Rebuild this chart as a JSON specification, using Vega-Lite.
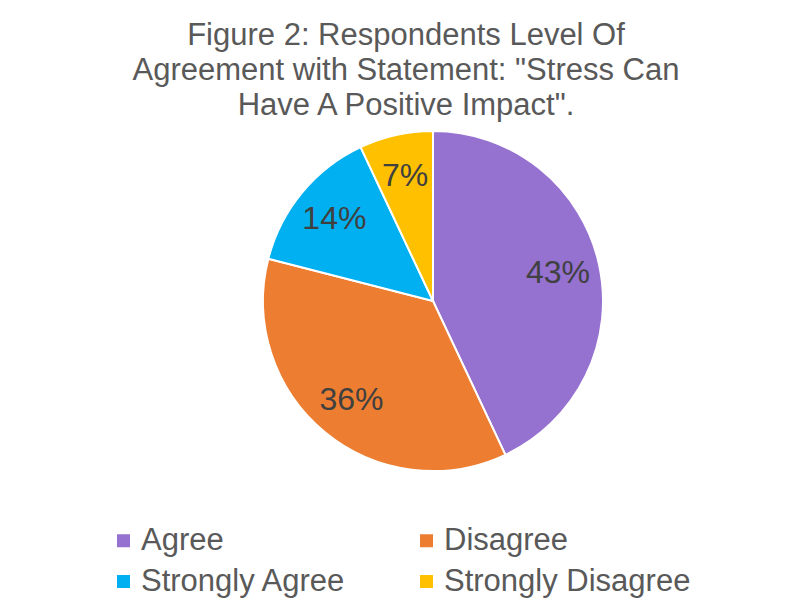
{
  "$schema": "https://vega.github.io/schema/vega-lite/v6.json",
  "autosize": {"type": "none"},
  "width": 650,
  "height": 342,
  "padding": {"left": 108, "top": 130, "right": 41, "bottom": 131},
  "background": "#ffffff",
  "title": {
    "text": ["Figure 2: Respondents Level Of", "Agreement with Statement: \"Stress Can", "Have A Positive Impact\"."],
    "font": "Liberation Sans",
    "fontSize": 31,
    "fontWeight": "normal",
    "color": "#595959",
    "lineHeight": 35,
    "anchor": "middle",
    "dx": -27,
    "offset": 5
  },
  "data": {
    "values": [
      {"category": "Agree", "share": 0.43},
      {"category": "Disagree", "share": 0.36},
      {"category": "Strongly Agree", "share": 0.14},
      {"category": "Strongly Disagree", "share": 0.07}
    ]
  },
  "encoding": {
    "theta": {"field": "share", "type": "quantitative", "stack": true},
    "order": {"field": "category", "type": "nominal"}
  },
  "layer": [
    {
      "mark": {"type": "arc", "outerRadius": 170, "stroke": "#ffffff", "strokeWidth": 2},
      "encoding": {
        "color": {
          "field": "category",
          "type": "nominal",
          "scale": {
            "domain": ["Agree", "Disagree", "Strongly Agree", "Strongly Disagree"],
            "range": ["#9571D0", "#ED7D31", "#00B0F0", "#FFC000"]
          },
          "legend": {
            "orient": "bottom",
            "direction": "horizontal",
            "columns": 2,
            "title": null,
            "symbolType": "square",
            "symbolSize": 169,
            "symbolStrokeWidth": 0,
            "labelFont": "Liberation Sans",
            "labelFontSize": 31,
            "labelColor": "#595959",
            "labelLimit": 500,
            "labelOffset": 2,
            "columnPadding": 64,
            "rowPadding": 9,
            "offset": 53
          }
        }
      }
    },
    {
      "mark": {"type": "text", "radius": 128, "font": "Liberation Sans", "fontSize": 32, "color": "#404040", "baseline": "middle", "align": "center"},
      "encoding": {
        "text": {"field": "share", "type": "quantitative", "format": ".0%"}
      }
    }
  ],
  "config": {"view": {"stroke": null}}
}
